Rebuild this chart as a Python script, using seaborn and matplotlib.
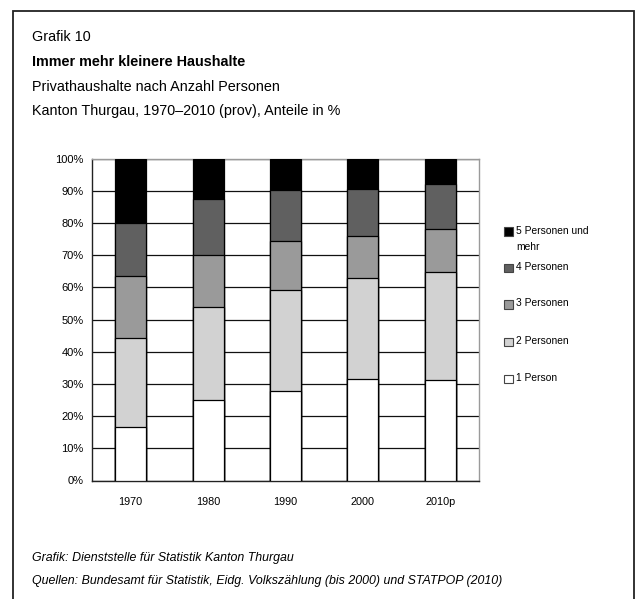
import matplotlib
matplotlib.use("Agg")
import matplotlib.pyplot as plt
from matplotlib import font_manager
from matplotlib.patches import Rectangle
import seaborn as sns
import pandas as pd
import numpy as np

years = ["1970", "1980", "1990", "2000", "2010p"]
categories = ["1 Person", "2 Personen", "3 Personen", "4 Personen", "5 Personen und\nmehr"]
p1 = [16.6, 24.9, 27.7, 31.5, 31.3]
p2 = [27.5, 29.0, 31.4, 31.3, 33.6]
p3 = [19.3, 16.2, 15.3, 13.0, 13.2]
p4 = [16.5, 17.3, 15.8, 14.8, 13.9]
p5 = [20.1, 12.6, 9.8, 9.4, 8.0]
colors = ["#ffffff", "#d2d2d2", "#9a9a9a", "#606060", "#000000"]
yticks = [0, 10, 20, 30, 40, 50, 60, 70, 80, 90, 100]

sns.set_style("white")
names = {f.name for f in font_manager.fontManager.ttflist}
narrow = "Liberation Sans Narrow" in names
fam = "Liberation Sans Narrow" if narrow else ("Liberation Sans" if "Liberation Sans" in names else "DejaVu Sans")
k = 1.22 if narrow else 1.0   # size factor when a narrow face is available
plt.rcParams["font.family"] = [fam, "DejaVu Sans"]
for key in ["text.color", "axes.labelcolor", "xtick.color", "ytick.color"]:
    plt.rcParams[key] = "#000000"

df = pd.DataFrame({"Jahr": years, categories[0]: p1, categories[1]: p2,
                   categories[2]: p3, categories[3]: p4, categories[4]: p5})
cum = df[categories].cumsum(axis=1)

W, H = 637, 599
fig = plt.figure(figsize=(W / 100, H / 100), dpi=100)
ax = fig.add_axes([92 / W, 1 - 480.5 / H, (479 - 92) / W, (480.5 - 158.5) / H])

# draw from the top segment down so that lower segments overlay
for cat, col in reversed(list(zip(categories, colors))):
    sns.barplot(x=df["Jahr"], y=cum[cat], color=col, width=0.4, ax=ax,
                edgecolor="#000000", linewidth=0.9, saturation=1, zorder=3)

ax.set_ylim(0, 100)
ax.set_xlim(-0.5, len(years) - 0.5)
ax.set_yticks(yticks)
ax.set_yticklabels([f"{v}%" for v in yticks], fontsize=8 * k)
ax.yaxis.grid(True, color="#111111", linewidth=0.9, zorder=0)
ax.set_axisbelow(True)
ax.set_xticks(range(len(years)))
ax.set_xticklabels(years, fontsize=7.8 * k)
ax.tick_params(axis="x", length=0, pad=12)
ax.set_xticks(np.arange(-0.5, len(years)), minor=True)
ax.tick_params(axis="x", which="minor", length=4, width=0.9, color="#333333", direction="out")
ax.tick_params(axis="y", length=4, width=0.9, color="#333333", direction="out", pad=2)
ax.set_xlabel("")
ax.set_ylabel("")
for s in ["top", "right"]:
    ax.spines[s].set_color("#9a9a9a")
    ax.spines[s].set_linewidth(1.0)
for s in ["left", "bottom"]:
    ax.spines[s].set_color("#222222")
    ax.spines[s].set_linewidth(1.0)

# legend (manual, reversed order)
leg_y = [231, 267.7, 304, 341.7, 378.7]
for (cat, col), y in zip(reversed(list(zip(categories, colors))), leg_y):
    fig.patches.append(Rectangle((504 / W, 1 - (y + 4.5) / H), 8.5 / W, 8.5 / H,
                                 transform=fig.transFigure, facecolor=col,
                                 edgecolor="#444444", linewidth=0.8))
    fig.text(516 / W, 1 - (y - 5.5) / H, cat, fontsize=7.4 * k, va="top", ha="left",
             linespacing=1.75)

# titles
ts = 10.4 * k
fig.text(32 / W, 1 - 41 / H, "Grafik 10", fontsize=ts, va="baseline")
fig.text(32 / W, 1 - 66 / H, "Immer mehr kleinere Haushalte", fontsize=ts,
         fontweight="bold", va="baseline")
fig.text(32 / W, 1 - 91 / H, "Privathaushalte nach Anzahl Personen", fontsize=ts, va="baseline")
fig.text(32 / W, 1 - 115 / H, "Kanton Thurgau, 1970–2010 (prov), Anteile in %", fontsize=ts,
         va="baseline")

fs = 8.9 * k
fig.text(32 / W, 1 - 561 / H, "Grafik: Dienststelle für Statistik Kanton Thurgau",
         fontsize=fs, style="italic", va="baseline")
fig.text(32 / W, 1 - 584 / H,
         "Quellen: Bundesamt für Statistik, Eidg. Volkszählung (bis 2000) und STATPOP (2010)",
         fontsize=fs, style="italic", va="baseline")

# frame
fig.patches.append(Rectangle((13 / W, -0.05), (634 - 13) / W, 1.05 - 10.5 / H,
                             transform=fig.transFigure, fill=False,
                             edgecolor="#222222", linewidth=1.3))

fig.savefig("out.png", dpi=100)
